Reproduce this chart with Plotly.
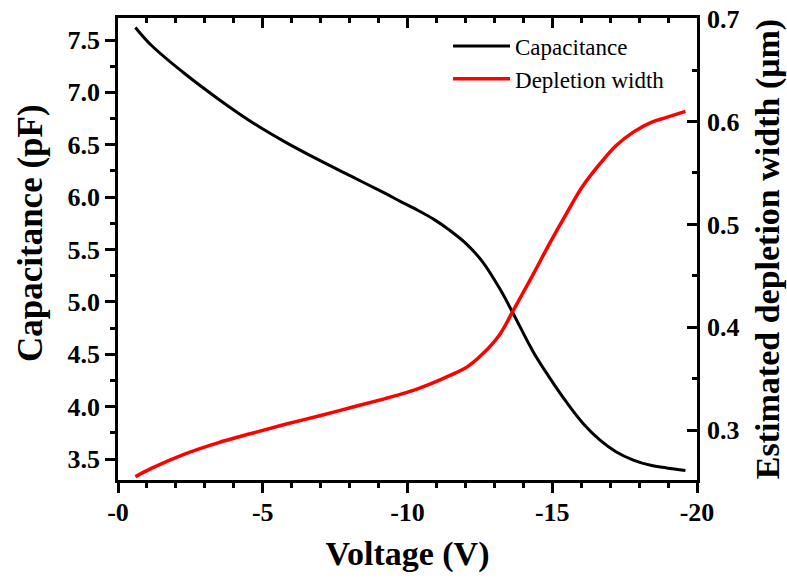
import plotly.graph_objects as go

voltage = [-0.6, -1.15, -2.3, -3.45, -4.6, -5.75, -6.9, -8.05, -9.2, -9.75, -10.35,
           -10.9, -11.45, -12.05, -12.6, -13.2, -13.65, -14.35, -14.9, -15.5, -16.05,
           -16.65, -17.2, -17.8, -18.4, -18.95, -19.6]
capacitance = [7.62, 7.45, 7.18, 6.94, 6.72, 6.53, 6.36, 6.20, 6.04, 5.96, 5.875,
               5.79, 5.685, 5.55, 5.38, 5.12, 4.89, 4.52, 4.28, 4.04, 3.845,
               3.68, 3.57, 3.49, 3.44, 3.415, 3.39]
depletion = [0.2548, 0.2629, 0.2768, 0.2877, 0.2968, 0.3055, 0.3136, 0.322, 0.3305, 0.3348, 0.3402,
             0.3462, 0.353, 0.3613, 0.3742, 0.3936, 0.4162, 0.452, 0.481, 0.511, 0.537,
             0.559, 0.5765, 0.5897, 0.599, 0.604, 0.6098]

x_tickvals = [0, -5, -10, -15, -20]
x_ticktext = ["-0", "-5", "-10", "-15", "-20"]
left_tickvals = [3.5, 4.0, 4.5, 5.0, 5.5, 6.0, 6.5, 7.0, 7.5]
right_tickvals = [0.3, 0.4, 0.5, 0.6, 0.7]

FONT = "Liberation Serif"

fig = go.Figure()
fig.add_trace(go.Scatter(x=voltage, y=capacitance, mode="lines", name="Capacitance",
                         line=dict(color="black", width=3, shape="spline", smoothing=1.0), yaxis="y"))
fig.add_trace(go.Scatter(x=voltage, y=depletion, mode="lines", name="Depletion width",
                         line=dict(color="#ff0000", width=3.5, shape="spline", smoothing=1.0), yaxis="y2"))
fig.add_trace(go.Scatter(x=[None], y=[None], xaxis="x2", yaxis="y", showlegend=False,
                         hoverinfo="skip"))

W, H = 787, 582
L, R, T, B = 118, 90, 18, 102
PW, PH = W - L - R, H - T - B

tickfont = dict(family=FONT, size=26, color="black", weight="bold")
titlefont = dict(family=FONT, size=34, color="black", weight="bold")

fig.update_layout(
    width=W, height=H,
    margin=dict(l=L, r=R, t=T, b=B, autoexpand=False),
    plot_bgcolor="white", paper_bgcolor="white",
    showlegend=True,
    legend=dict(x=0.57, y=0.986, xanchor="left", yanchor="top",
                font=dict(family=FONT, size=23, color="black"),
                bgcolor="rgba(0,0,0,0)", itemwidth=57, tracegroupgap=0),
    xaxis=dict(range=[0, -20], tickvals=x_tickvals, ticktext=x_ticktext,
               ticks="outside", ticklen=10, tickwidth=2.5, tickcolor="black",
               minor=dict(dtick=1, ticks="outside", ticklen=5, tickwidth=2.5, tickcolor="black"),
               showline=True, linewidth=2.5, linecolor="black", showgrid=False, zeroline=False,
               tickfont=tickfont, ticklabelstandoff=-3,
               title=dict(text="Voltage (V)", font=titlefont, standoff=16)),
    xaxis2=dict(range=[0, -20], overlaying="x", side="top", tickvals=x_tickvals,
                ticks="inside", ticklen=10, tickwidth=2.5, tickcolor="black",
                minor=dict(dtick=1, ticks="inside", ticklen=5, tickwidth=2.5, tickcolor="black"),
                showticklabels=False, showline=True, linewidth=2.5, linecolor="black",
                showgrid=False, zeroline=False),
    yaxis=dict(range=[3.30, 7.71], tickvals=left_tickvals, tickformat=".1f",
               ticks="outside", ticklen=10, tickwidth=2.5, tickcolor="black",
               minor=dict(dtick=0.25, tick0=3.25, ticks="outside", ticklen=5, tickwidth=2.5, tickcolor="black"),
               showline=True, linewidth=2.5, linecolor="black", showgrid=False, zeroline=False,
               tickfont=tickfont, ticklabelstandoff=0),
    yaxis2=dict(range=[0.2516, 0.7006], overlaying="y", side="right", tickvals=right_tickvals,
                tickformat=".1f", ticklabeloverflow="allow",
                ticks="inside", ticklen=10, tickwidth=2.5, tickcolor="black",
                minor=dict(dtick=0.05, tick0=0.25, ticks="inside", ticklen=5, tickwidth=2.5, tickcolor="black"),
                showline=True, linewidth=2.5, linecolor="black", showgrid=False, zeroline=False,
                tickfont=tickfont, ticklabelstandoff=2,
                title=dict(text="Estimated depletion width (μm)", font=titlefont, standoff=18)),
    annotations=[dict(text="Capacitance (pF)", textangle=-90, showarrow=False,
                      xref="paper", yref="paper",
                      x=(30 - L) / PW, y=1 - (233 - T) / PH,
                      xanchor="center", yanchor="middle",
                      font=dict(family=FONT, size=35, color="black", weight="bold"))],
)

fig.write_html("out.html",
               config={"displayModeBar": False},
               post_script="document.body.style.margin='0';document.body.style.padding='0';")
